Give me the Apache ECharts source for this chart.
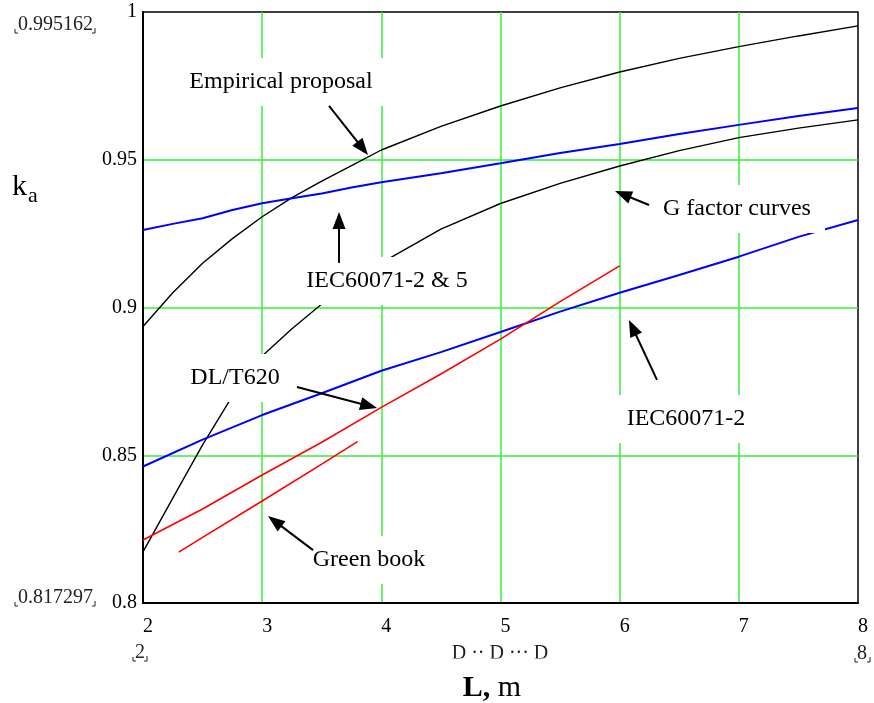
<!DOCTYPE html>
<html><head><meta charset="utf-8">
<script src="https://cdn.jsdelivr.net/npm/echarts@6/dist/echarts.min.js"></script>
<style>html,body{margin:0;padding:0;background:#fff}#c{width:874px;height:703px}</style>
</head><body><div id="c"></div>
<script>
const FONT = '"Liberation Serif","Times New Roman",Times,serif';

// ---- data ----
const L_grid = [2, 2.25, 2.5, 2.75, 3, 3.25, 3.5, 3.75, 4, 4.5, 5, 5.5, 6, 6.5, 7, 7.5, 8];
const k_empirical = [0.8936, 0.9050, 0.9150, 0.9233, 0.9307, 0.9372, 0.9428, 0.9480, 0.9533, 0.9613, 0.9682, 0.9743, 0.9797, 0.9843, 0.9883, 0.9919, 0.9953];
const k_gfactor   = [0.8173, 0.8355, 0.8535, 0.8700, 0.8836, 0.8928, 0.9012, 0.9085, 0.9151, 0.9265, 0.9352, 0.9420, 0.9479, 0.9531, 0.9575, 0.9607, 0.9635];
const k_iec_2_5   = [0.9262, 0.9283, 0.9302, 0.9330, 0.9353, 0.9370, 0.9386, 0.9406, 0.9424, 0.9454, 0.9488, 0.9523, 0.9553, 0.9587, 0.9618, 0.9648, 0.9675];

const L_half = [2, 2.5, 3, 3.5, 4, 4.5, 5, 5.5, 6, 6.5, 7, 7.5, 8];
const k_iec_2 = [0.8462, 0.8553, 0.8636, 0.8710, 0.8786, 0.8849, 0.8917, 0.8986, 0.9050, 0.9110, 0.9172, 0.9239, 0.9296];

const L_dlt = [2, 2.5, 3, 3.5, 4, 4.5, 5, 5.5, 6];
const k_dlt = [0.8213, 0.8318, 0.8433, 0.8544, 0.8662, 0.8775, 0.8893, 0.9020, 0.9141];

const L_green = [2.3, 2.5, 3, 3.5, 3.8];
const k_green = [0.8172, 0.8222, 0.8345, 0.8470, 0.8546];

const xTicks = [2, 3, 4, 5, 6, 7, 8];
const yTicks = [0.8, 0.85, 0.9, 0.95, 1];

// annotation arrows in data coordinates (start -> tip)
const arrows = [
  {from: [3.561, 0.9682], to: [3.888, 0.9516]},
  {from: [3.645, 0.9151], to: [3.645, 0.9323]},
  {from: [6.246, 0.9347], to: [5.961, 0.9394]},
  {from: [3.292, 0.8731], to: [3.964, 0.8660]},
  {from: [6.313, 0.8755], to: [6.078, 0.8958]},
  {from: [3.427, 0.8179], to: [3.049, 0.8294]}
];

const zip = (xs, ys) => xs.map((x, i) => [x, ys[i]]);

const chart = echarts.init(document.getElementById('c'), null, {renderer: 'canvas'});

function lineSeries(name, data, color, width) {
  return {
    name, type: 'line', data, showSymbol: false, symbol: 'none',
    smooth: false, z: 3,
    lineStyle: {color, width}, emphasis: {disabled: true}, silent: true
  };
}

const GRID_GREEN = '#3aee3a';

chart.setOption({
  animation: false,
  backgroundColor: '#fff',
  grid: {left: 143, right: 16, top: 12, bottom: 100, show: true, borderColor: '#000', borderWidth: 1.5,
         backgroundColor: 'transparent', containLabel: false, outerBoundsMode: 'none'},
  xAxis: {
    type: 'value', min: xTicks[0], max: xTicks[xTicks.length - 1], interval: 1,
    axisLine: {show: true, onZero: false, lineStyle: {color: '#000', width: 2}},
    axisTick: {show: false},
    splitLine: {show: true, showMinLine: false, showMaxLine: false, lineStyle: {color: GRID_GREEN, width: 1.5}},
    axisLabel: {fontFamily: FONT, fontSize: 20, color: '#000', margin: 14, align: 'left'}
  },
  yAxis: {
    type: 'value', min: yTicks[0], max: yTicks[yTicks.length - 1], interval: 0.05,
    axisLine: {show: true, onZero: false, lineStyle: {color: '#000', width: 2}},
    axisTick: {show: false},
    splitLine: {show: true, showMinLine: false, showMaxLine: false, lineStyle: {color: GRID_GREEN, width: 1.5}},
    axisLabel: {fontFamily: FONT, fontSize: 20, color: '#000', margin: 6}
  },
  series: [
    lineSeries('Empirical proposal', zip(L_grid, k_empirical), '#000', 1.4),
    lineSeries('G factor curves', zip(L_grid, k_gfactor), '#000', 1.4),
    lineSeries('IEC60071-2 & 5', zip(L_grid, k_iec_2_5), '#0000ff', 2),
    lineSeries('IEC60071-2', zip(L_half, k_iec_2), '#0000ff', 2),
    lineSeries('DL/T620', zip(L_dlt, k_dlt), '#ff0000', 1.6),
    lineSeries('Green book', zip(L_green, k_green), '#ff0000', 1.6)
  ]
});

// ---- annotations ----
const toPx = p => chart.convertToPixel({gridIndex: 0}, p);
const g = [];

function boxLabel(text, cx, cy) {
  g.push({type: 'text', x: cx, y: cy, z: 100, silent: true,
    style: {text, font: '24px ' + FONT, fill: '#000', align: 'center', verticalAlign: 'middle',
            backgroundColor: '#fff', padding: [12, 14]}});
}
boxLabel('Empirical proposal', 281, 82);
boxLabel('G factor curves', 737, 209);
boxLabel('IEC60071-2 & 5', 387, 281);
boxLabel('DL/T620', 235, 378);
boxLabel('IEC60071-2', 686, 419);
boxLabel('Green book', 369, 560);

arrows.forEach(a => {
  const s = toPx(a.from), t = toPx(a.to);
  const dx = t[0] - s[0], dy = t[1] - s[1], len = Math.hypot(dx, dy);
  const ux = dx / len, uy = dy / len, hl = 17, hw = 6.5;
  const bx = t[0] - ux * hl, by = t[1] - uy * hl;
  g.push({type: 'line', z: 120, silent: true, shape: {x1: s[0], y1: s[1], x2: bx + ux * 2, y2: by + uy * 2},
          style: {stroke: '#000', lineWidth: 2}});
  g.push({type: 'polygon', z: 121, silent: true,
          shape: {points: [[t[0], t[1]], [bx - uy * hw, by + ux * hw], [bx + uy * hw, by - ux * hw]]},
          style: {fill: '#000'}});
});

// axis titles
g.push({type: 'text', x: 12, y: 187, z: 100, style: {text: 'k', font: '30px ' + FONT, fill: '#000', align: 'left', verticalAlign: 'middle'}});
g.push({type: 'text', x: 28, y: 196, z: 100, style: {text: 'a', font: '22px ' + FONT, fill: '#000', align: 'left', verticalAlign: 'middle'}});
g.push({type: 'text', x: 492, y: 688, z: 100, style: {text: '{b|L,} m', font: '30px ' + FONT, fill: '#000', align: 'center', verticalAlign: 'middle',
  rich: {b: {fontWeight: 'bold', fontSize: 30, fontFamily: FONT}}}});

// Mathcad range placeholders
function small(text, x, y, align) {
  g.push({type: 'text', x, y, z: 100, style: {text, font: '20px ' + FONT, fill: '#222', align, verticalAlign: 'middle'}});
}
function corners(xl, xr, yb) {
  g.push({type: 'polyline', z: 101, shape: {points: [[xl, yb - 4], [xl, yb], [xl + 3, yb]]}, style: {stroke: '#222', lineWidth: 1}});
  g.push({type: 'polyline', z: 101, shape: {points: [[xr - 3, yb], [xr, yb], [xr, yb - 5]]}, style: {stroke: '#222', lineWidth: 1}});
}
small('0.995162', 18, 25, 'left'); corners(15, 95, 33);
small('0.817297', 18, 598, 'left'); corners(15, 95, 606);
small('2', 140, 653, 'center'); corners(133, 147, 661);
small('8', 862, 654, 'center'); corners(855, 870, 662);
small('D ·· D ··· D', 500, 654, 'center');
g.push({type: 'rect', z: 105, shape: {x: 440, y: 658.5, width: 130, height: 12}, style: {fill: '#fff'}});

chart.setOption({graphic: g});
</script></body></html>
